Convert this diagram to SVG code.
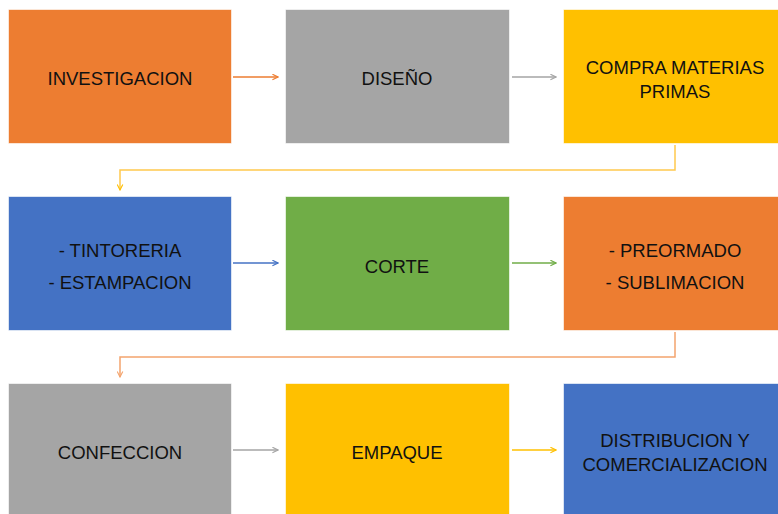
<svg xmlns="http://www.w3.org/2000/svg" width="778" height="514" viewBox="0 0 778 514">
<style>
.box{stroke:#ffffff;stroke-opacity:0.6;stroke-width:1}
.t{font-family:"Liberation Sans",Arial,sans-serif;font-size:18.5px;fill:#111111;text-anchor:middle;dominant-baseline:central}
.c{fill:none;stroke-width:1.5}
</style>
<defs>
<marker id="aO" viewBox="0 0 10 10" refX="9" refY="5" markerWidth="7" markerHeight="7" markerUnits="userSpaceOnUse" orient="auto"><path d="M1,1 L9,5 L1,9" fill="none" stroke="#ED7D31" stroke-width="1.6"/></marker>
<marker id="aG" viewBox="0 0 10 10" refX="9" refY="5" markerWidth="7" markerHeight="7" markerUnits="userSpaceOnUse" orient="auto"><path d="M1,1 L9,5 L1,9" fill="none" stroke="#A5A5A5" stroke-width="1.6"/></marker>
<marker id="aY" viewBox="0 0 10 10" refX="9" refY="5" markerWidth="7" markerHeight="7" markerUnits="userSpaceOnUse" orient="auto"><path d="M1,1 L9,5 L1,9" fill="none" stroke="#FFC000" stroke-width="1.6"/></marker>
<marker id="aB" viewBox="0 0 10 10" refX="9" refY="5" markerWidth="7" markerHeight="7" markerUnits="userSpaceOnUse" orient="auto"><path d="M1,1 L9,5 L1,9" fill="none" stroke="#4472C4" stroke-width="1.6"/></marker>
<marker id="aN" viewBox="0 0 10 10" refX="9" refY="5" markerWidth="7" markerHeight="7" markerUnits="userSpaceOnUse" orient="auto"><path d="M1,1 L9,5 L1,9" fill="none" stroke="#70AD47" stroke-width="1.6"/></marker>
<marker id="aO2" viewBox="0 0 10 10" refX="9" refY="5" markerWidth="7" markerHeight="7" markerUnits="userSpaceOnUse" orient="auto"><path d="M1,1 L9,5 L1,9" fill="none" stroke="#F4A46E" stroke-width="1.6"/></marker>
</defs>
<rect width="778" height="514" fill="#ffffff"/>
<g id="connectors">
<line class="c" x1="233" y1="77" x2="278" y2="77" stroke="#ED7D31" marker-end="url(#aO)"/>
<line class="c" x1="512" y1="77" x2="556" y2="77" stroke="#A5A5A5" marker-end="url(#aG)"/>
<polyline class="c" points="675,145 675,170 120,170 120,190" stroke="#FFC94D" marker-end="url(#aY)"/>
<line class="c" x1="233" y1="263" x2="278" y2="263" stroke="#4472C4" marker-end="url(#aB)"/>
<line class="c" x1="512" y1="263" x2="556" y2="263" stroke="#70AD47" marker-end="url(#aN)"/>
<polyline class="c" points="675,332 675,357 120,357 120,377" stroke="#F4A46E" marker-end="url(#aO2)"/>
<line class="c" x1="233" y1="450" x2="278" y2="450" stroke="#A5A5A5" marker-end="url(#aG)"/>
<line class="c" x1="512" y1="450" x2="556" y2="450" stroke="#FFC000" marker-end="url(#aY)"/>
</g>
<g id="n1"><rect class="box" x="8.5" y="9.5" width="223" height="134" fill="#ED7D31"/><text class="t" x="120" y="78">INVESTIGACION</text></g>
<g id="n2"><rect class="box" x="285.5" y="9.5" width="224" height="134" fill="#A5A5A5"/><text class="t" x="397" y="78">DISEÑO</text></g>
<g id="n3"><rect class="box" x="563.5" y="9.5" width="224" height="134" fill="#FFC000"/><text class="t" x="675" y="67">COMPRA MATERIAS</text><text class="t" x="675" y="91">PRIMAS</text></g>
<g id="n4"><rect class="box" x="8.5" y="196.5" width="223" height="134" fill="#4472C4"/><text class="t" x="120" y="250">- TINTORERIA</text><text class="t" x="120" y="282">- ESTAMPACION</text></g>
<g id="n5"><rect class="box" x="285.5" y="196.5" width="224" height="134" fill="#70AD47"/><text class="t" x="397" y="266">CORTE</text></g>
<g id="n6"><rect class="box" x="563.5" y="196.5" width="224" height="134" fill="#ED7D31"/><text class="t" x="675" y="250">- PREORMADO</text><text class="t" x="675" y="282">- SUBLIMACION</text></g>
<g id="n7"><rect class="box" x="8.5" y="383.5" width="223" height="134" fill="#A5A5A5"/><text class="t" x="120" y="452">CONFECCION</text></g>
<g id="n8"><rect class="box" x="285.5" y="383.5" width="224" height="134" fill="#FFC000"/><text class="t" x="397" y="452">EMPAQUE</text></g>
<g id="n9"><rect class="box" x="563.5" y="383.5" width="224" height="134" fill="#4472C4"/><text class="t" x="675" y="440">DISTRIBUCION Y</text><text class="t" x="675" y="464">COMERCIALIZACION</text></g>
</svg>
